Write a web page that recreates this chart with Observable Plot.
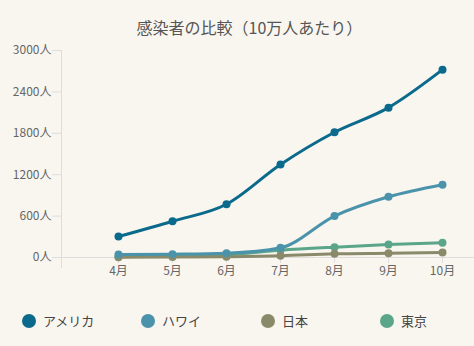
<!DOCTYPE html>
<html>
<head>
<meta charset="utf-8">
<script src="https://cdn.jsdelivr.net/npm/d3@7"></script>
<script src="https://cdn.jsdelivr.net/npm/@observablehq/plot@0.6"></script>
<style>
  html, body { margin: 0; padding: 0; background: #f9f6f0; }
  body { width: 474px; height: 346px; overflow: hidden; font-family: "Noto Sans CJK JP", "Noto Sans", sans-serif; }
  #title { height: 40px; box-sizing: border-box; padding-top: 17px; padding-left: 25px; line-height: 20px; text-align: center; font-size: 16px; color: #555; }
  #chart svg { display: block; }
  #legend { position: relative; height: 66px; }
  .item { position: absolute; top: 31px; display: flex; align-items: center; font-size: 13px; color: #444; }
  .sw { width: 14px; height: 14px; border-radius: 50%; margin-right: 7px; }
</style>
</head>
<body>
<div id="title">感染者の比較（10万人あたり）</div>
<div id="chart"></div>
<div id="legend"></div>
<script>
const months = ["4月", "5月", "6月", "7月", "8月", "9月", "10月"];
const seriesNames = ["アメリカ", "ハワイ", "日本", "東京"];
const seriesColors = ["#0b6a8c", "#4a93ab", "#8a8a6b", "#5ba58a"];
const usa    = [304, 526, 772, 1348, 1815, 2172, 2722];
const hawaii = [43, 48, 62, 140, 600, 880, 1055];
const japan  = [3, 6, 12, 25, 53, 62, 72];
const tokyo  = [10, 20, 40, 105, 150, 188, 215];
const yTicks = [0, 600, 1200, 1800, 2400, 3000];

const seriesValues = [usa, hawaii, japan, tokyo];
const data = [];
seriesNames.forEach((name, s) => {
  months.forEach((m, i) => data.push({ series: name, month: m, value: seriesValues[s][i] }));
});
const drawOrder = ["東京", "日本", "ハワイ", "アメリカ"];
const ordered = drawOrder.flatMap(n => data.filter(d => d.series === n));

const chart = Plot.plot({
  width: 474,
  height: 240,
  marginTop: 10,
  marginBottom: 23,
  marginLeft: 61,
  marginRight: 0,
  style: { background: "transparent", fontSize: "12px", fontFamily: "'Noto Sans CJK JP', 'Noto Sans', sans-serif" },
  x: { type: "point", domain: months, padding: 0, insetLeft: 56, insetRight: 32 },
  y: { domain: [0, 3000] },
  color: { domain: seriesNames, range: seriesColors },
  marks: [
    Plot.frame({ anchor: "left", insetBottom: -10, stroke: "#ddd" }),
    Plot.ruleY([0], { stroke: "#ddd" }),
    Plot.axisY({ ticks: yTicks, tickFormat: d => d + "人", tickSize: 9, tickPadding: 1, stroke: "#ddd", fill: "#666", label: null }),
    Plot.axisX({ tickSize: 6, tickPadding: 3, stroke: "#ddd", fill: "#666", label: null }),
    Plot.line(ordered, { x: "month", y: "value", z: "series", stroke: "series", strokeWidth: 3, curve: "monotone-x" }),
    Plot.dot(ordered, { x: "month", y: "value", fill: "series", r: 4 })
  ]
});
document.getElementById("chart").appendChild(chart);

const legendX = [22, 141, 261, 380];
const legend = document.getElementById("legend");
seriesNames.forEach((n, i) => {
  const el = document.createElement("div");
  el.className = "item";
  el.style.left = legendX[i] + "px";
  el.innerHTML = `<span class="sw" style="background:${seriesColors[i]}"></span><span>${n}</span>`;
  legend.appendChild(el);
});
</script>
</body>
</html>
